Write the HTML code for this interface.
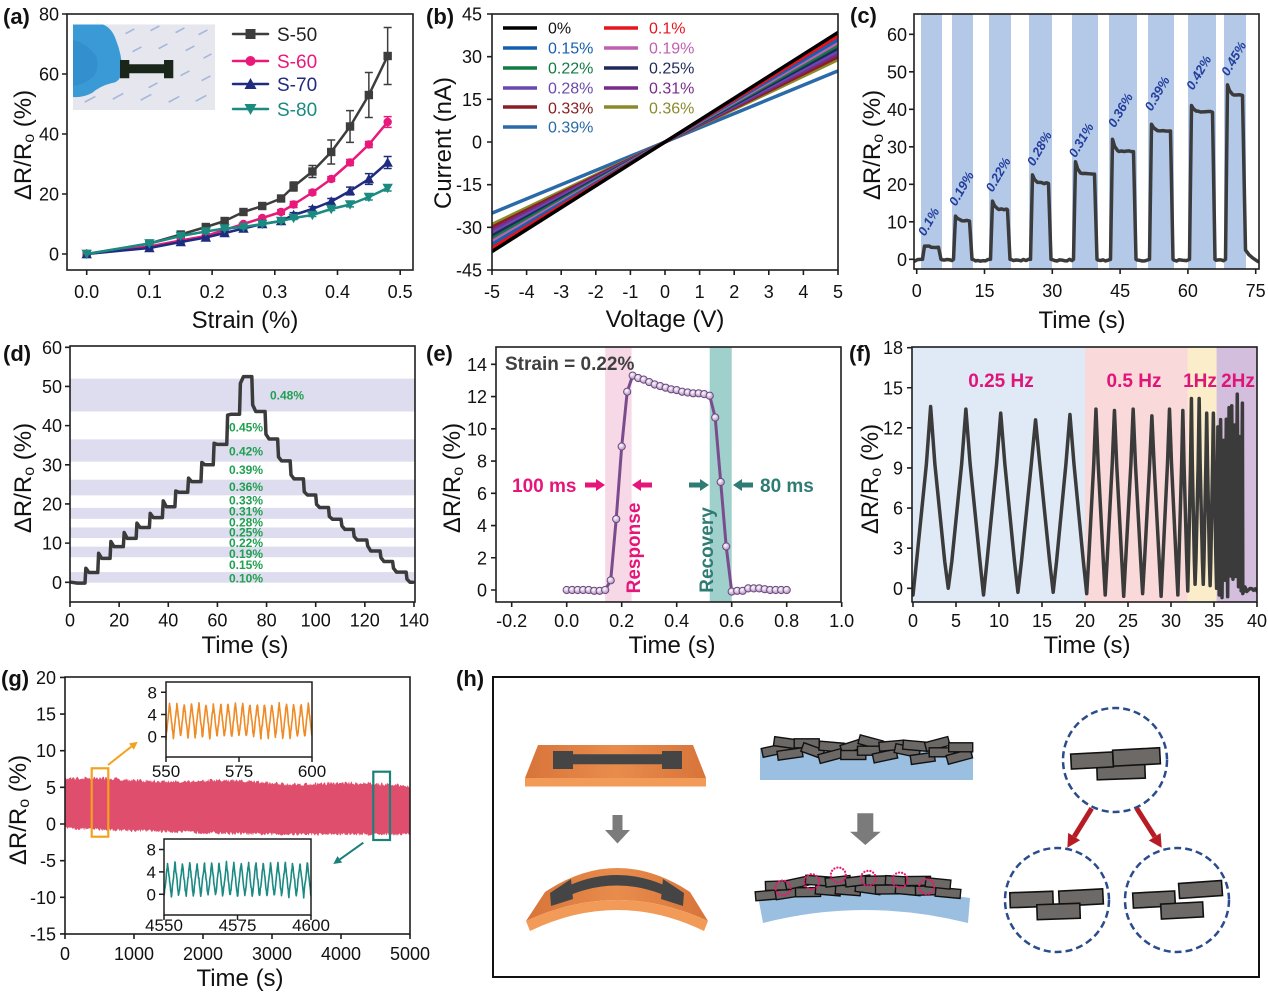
<!DOCTYPE html>
<html><head><meta charset="utf-8">
<style>
html,body{margin:0;padding:0;background:#fff;}
svg{display:block;font-family:"Liberation Sans",Arial,sans-serif;}
.t{font-size:18px;fill:#111;}
.te{font-size:18px;fill:#111;text-anchor:end;}
.tm{font-size:18px;fill:#111;text-anchor:middle;}
.ti{font-size:24px;fill:#111;text-anchor:middle;}
.pl{font-size:22px;font-weight:bold;fill:#111;}
.cl{font-size:13px;font-weight:bold;font-style:italic;fill:#223e9c;}
.dl{font-size:12px;font-weight:bold;fill:#20a050;text-anchor:middle;}
.ins{font-size:17px;fill:#111;}
</style></head><body>
<svg id="s" width="1268" height="996" viewBox="0 0 1268 996" xmlns="http://www.w3.org/2000/svg">
<defs>
<clipPath id="kb"><rect x="492" y="14" width="346" height="256"/></clipPath>
<clipPath id="kc"><rect x="914" y="14" width="345" height="255"/></clipPath>
<clipPath id="kf"><rect x="912" y="347" width="345" height="255"/></clipPath>
<linearGradient id="og" x1="0" x2="1" y1="0" y2="0"><stop offset="0" stop-color="#d8743a"/><stop offset="0.5" stop-color="#e88c4c"/><stop offset="1" stop-color="#d8743a"/></linearGradient>
<radialGradient id="sph" cx="0.4" cy="0.35" r="0.7"><stop offset="0" stop-color="#ffffff"/><stop offset="1" stop-color="#a888b8"/></radialGradient>
</defs>
<rect x="0" y="0" width="1268" height="996" fill="#fff"/>
<g id="bg"></g>
<g id="dt"></g>
<g id="ax"></g>

<!-- (a) inset photo -->
<rect x="73" y="24.5" width="142" height="85.5" fill="#e6e6ee"/>
<g fill="#5a80c6" opacity="0.45">
<rect x="125" y="30" width="10" height="1.6" transform="rotate(-28 131 31)"/>
<rect x="150" y="27" width="10" height="1.6" transform="rotate(-28 156 28)"/>
<rect x="175" y="29" width="10" height="1.6" transform="rotate(-28 181 30)"/>
<rect x="198" y="31" width="10" height="1.6" transform="rotate(-28 204 32)"/>
<rect x="132" y="48" width="10" height="1.6" transform="rotate(-28 138 49)"/>
<rect x="158" y="45" width="10" height="1.6" transform="rotate(-28 164 46)"/>
<rect x="185" y="47" width="10" height="1.6" transform="rotate(-28 191 48)"/>
<rect x="203" y="55" width="9" height="1.6" transform="rotate(-28 208 56)"/>
<rect x="180" y="72" width="10" height="1.6" transform="rotate(-28 186 73)"/>
<rect x="201" y="77" width="10" height="1.6" transform="rotate(-28 207 78)"/>
<rect x="84" y="98" width="12" height="1.6" transform="rotate(-28 91 99)"/>
<rect x="112" y="95" width="12" height="1.6" transform="rotate(-28 119 96)"/>
<rect x="140" y="96" width="12" height="1.6" transform="rotate(-28 147 97)"/>
<rect x="168" y="98" width="12" height="1.6" transform="rotate(-28 175 99)"/>
<rect x="195" y="97" width="12" height="1.6" transform="rotate(-28 202 98)"/>
<rect x="148" y="84" width="10" height="1.6" transform="rotate(-28 154 85)"/>
</g>
<path d="M73,24.5 H103 Q112,28 116,40 Q122,55 122,70 Q121,82 112,83 Q100,86 92,93 Q82,98 73,97 Z" fill="#3a9ad6"/>
<path d="M73,40 Q88,44 96,56 Q100,66 94,76 Q86,84 73,86 Z" fill="#2f88c6" opacity="0.6"/>
<path d="M120,60 H129.3 V64.3 H164 V60 H173.3 V78.3 H164 V73.3 H129.3 V78.3 H120 Z" fill="#1b261b"/>

<!-- (a) texts -->
<text class="pl" x="3" y="24">(a)</text>
<text class="te" x="59" y="20.5">80</text>
<text class="te" x="59" y="80.5">60</text>
<text class="te" x="59" y="140.5">40</text>
<text class="te" x="59" y="200.5">20</text>
<text class="te" x="59" y="260.5">0</text>
<text class="tm" x="86.7" y="298">0.0</text>
<text class="tm" x="149.4" y="298">0.1</text>
<text class="tm" x="212.1" y="298">0.2</text>
<text class="tm" x="274.8" y="298">0.3</text>
<text class="tm" x="337.5" y="298">0.4</text>
<text class="tm" x="400.2" y="298">0.5</text>
<text class="ti" x="245" y="328">Strain (%)</text>
<text class="ti" transform="translate(31,145) rotate(-90)">ΔR/R<tspan font-size="16" dy="3">o</tspan><tspan dy="-3"> (%)</tspan></text>
<g font-size="19">
<text x="277" y="41" fill="#222">S-50</text>
<text x="277" y="68" fill="#e8197a">S-60</text>
<text x="277" y="91" fill="#1f2b7e">S-70</text>
<text x="277" y="116" fill="#1b8a80">S-80</text>
</g>

<!-- (b) texts -->
<text class="pl" x="426" y="24">(b)</text>
<text class="te" x="482" y="20.5">45</text>
<text class="te" x="482" y="63.2">30</text>
<text class="te" x="482" y="105.8">15</text>
<text class="te" x="482" y="148.5">0</text>
<text class="te" x="482" y="191.2">-15</text>
<text class="te" x="482" y="233.8">-30</text>
<text class="te" x="482" y="276.5">-45</text>
<text class="tm" x="492" y="298">-5</text>
<text class="tm" x="526.6" y="298">-4</text>
<text class="tm" x="561.2" y="298">-3</text>
<text class="tm" x="595.8" y="298">-2</text>
<text class="tm" x="630.4" y="298">-1</text>
<text class="tm" x="665" y="298">0</text>
<text class="tm" x="699.6" y="298">1</text>
<text class="tm" x="734.2" y="298">2</text>
<text class="tm" x="768.8" y="298">3</text>
<text class="tm" x="803.4" y="298">4</text>
<text class="tm" x="838" y="298">5</text>
<text class="ti" x="665" y="327">Voltage (V)</text>
<text class="ti" transform="translate(451,143) rotate(-90)">Current (nA)</text>
<g font-size="16">
<text x="548" y="33.7" fill="#111">0%</text>
<text x="548" y="53.7" fill="#1560b0">0.15%</text>
<text x="548" y="73.7" fill="#127a42">0.22%</text>
<text x="548" y="93.7" fill="#6a4ab0">0.28%</text>
<text x="548" y="113.3" fill="#8a1e22">0.33%</text>
<text x="548" y="132.7" fill="#2a6aa8">0.39%</text>
<text x="649" y="33.7" fill="#e8141c">0.1%</text>
<text x="649" y="53.7" fill="#c060b0">0.19%</text>
<text x="649" y="73.7" fill="#1e2a5a">0.25%</text>
<text x="649" y="93.7" fill="#7a2a8a">0.31%</text>
<text x="649" y="113.3" fill="#8a8a2a">0.36%</text>
</g>

<!-- (c) texts -->
<text class="pl" x="850" y="23">(c)</text>
<text class="te" x="907" y="265.8">0</text>
<text class="te" x="907" y="228.3">10</text>
<text class="te" x="907" y="190.8">20</text>
<text class="te" x="907" y="153.3">30</text>
<text class="te" x="907" y="115.8">40</text>
<text class="te" x="907" y="78.3">50</text>
<text class="te" x="907" y="40.8">60</text>
<text class="tm" x="916.7" y="297">0</text>
<text class="tm" x="984.5" y="297">15</text>
<text class="tm" x="1052.3" y="297">30</text>
<text class="tm" x="1120.1" y="297">45</text>
<text class="tm" x="1187.9" y="297">60</text>
<text class="tm" x="1255.7" y="297">75</text>
<text class="ti" x="1082" y="328">Time (s)</text>
<text class="ti" transform="translate(880,145) rotate(-90)">ΔR/R<tspan font-size="16" dy="3">o</tspan><tspan dy="-3"> (%)</tspan></text>
<text class="cl" transform="translate(925,236.7) rotate(-60)">0.1%</text>
<text class="cl" transform="translate(956,206.7) rotate(-60)">0.19%</text>
<text class="cl" transform="translate(992.7,192.7) rotate(-60)">0.22%</text>
<text class="cl" transform="translate(1034,166.7) rotate(-60)">0.28%</text>
<text class="cl" transform="translate(1075.7,158.3) rotate(-60)">0.31%</text>
<text class="cl" transform="translate(1115,128.3) rotate(-60)">0.36%</text>
<text class="cl" transform="translate(1151.7,111.7) rotate(-60)">0.39%</text>
<text class="cl" transform="translate(1193.3,90.7) rotate(-60)">0.42%</text>
<text class="cl" transform="translate(1228.3,76.7) rotate(-60)">0.45%</text>

<!-- (d) texts -->
<text class="pl" x="3" y="361">(d)</text>
<text class="te" x="62" y="588.8">0</text>
<text class="te" x="62" y="549.6">10</text>
<text class="te" x="62" y="510.5">20</text>
<text class="te" x="62" y="471.3">30</text>
<text class="te" x="62" y="432.1">40</text>
<text class="te" x="62" y="393">50</text>
<text class="te" x="62" y="353.8">60</text>
<text class="tm" x="70" y="626.5">0</text>
<text class="tm" x="119.1" y="626.5">20</text>
<text class="tm" x="168.3" y="626.5">40</text>
<text class="tm" x="217.4" y="626.5">60</text>
<text class="tm" x="266.6" y="626.5">80</text>
<text class="tm" x="315.7" y="626.5">100</text>
<text class="tm" x="364.8" y="626.5">120</text>
<text class="tm" x="414" y="626.5">140</text>
<text class="ti" x="245" y="653">Time (s)</text>
<text class="ti" transform="translate(31,478) rotate(-90)">ΔR/R<tspan font-size="16" dy="3">o</tspan><tspan dy="-3"> (%)</tspan></text>
<text class="dl" x="287" y="399.7">0.48%</text>
<text class="dl" x="246" y="431.7">0.45%</text>
<text class="dl" x="246" y="455.7">0.42%</text>
<text class="dl" x="246" y="474">0.39%</text>
<text class="dl" x="246" y="491">0.36%</text>
<text class="dl" x="246" y="504.7">0.33%</text>
<text class="dl" x="246" y="515.7">0.31%</text>
<text class="dl" x="246" y="526.3">0.28%</text>
<text class="dl" x="246" y="536.3">0.25%</text>
<text class="dl" x="246" y="547">0.22%</text>
<text class="dl" x="246" y="558">0.19%</text>
<text class="dl" x="246" y="569">0.15%</text>
<text class="dl" x="246" y="582.3">0.10%</text>

<!-- (e) texts -->
<text class="pl" x="426" y="361">(e)</text>
<text class="te" x="487" y="596.5">0</text>
<text class="te" x="487" y="564.3">2</text>
<text class="te" x="487" y="532">4</text>
<text class="te" x="487" y="499.8">6</text>
<text class="te" x="487" y="467.5">8</text>
<text class="te" x="487" y="435.3">10</text>
<text class="te" x="487" y="403.1">12</text>
<text class="te" x="487" y="370.8">14</text>
<text class="tm" x="511.7" y="627">-0.2</text>
<text class="tm" x="566.7" y="627">0.0</text>
<text class="tm" x="621.7" y="627">0.2</text>
<text class="tm" x="676.7" y="627">0.4</text>
<text class="tm" x="731.7" y="627">0.6</text>
<text class="tm" x="786.7" y="627">0.8</text>
<text class="tm" x="841.7" y="627">1.0</text>
<text class="ti" x="672" y="653">Time (s)</text>
<text class="ti" transform="translate(460,478) rotate(-90)">ΔR/R<tspan font-size="16" dy="3">o</tspan><tspan dy="-3"> (%)</tspan></text>
<text x="505" y="370" font-size="19" font-weight="bold" fill="#404040">Strain = 0.22%</text>
<text x="512" y="492" font-size="19" font-weight="bold" fill="#e6157a">100 ms</text>
<text x="760" y="492" font-size="19" font-weight="bold" fill="#2e7c74">80 ms</text>
<text transform="translate(640,548) rotate(-90)" text-anchor="middle" font-size="19" font-weight="bold" fill="#e6157a">Response</text>
<text transform="translate(713,550) rotate(-90)" text-anchor="middle" font-size="19" font-weight="bold" fill="#2e7c74">Recovery</text>
<path d="M585,482.5 H596 V479 L605,485 L596,491 V487.5 H585 Z" fill="#e6157a"/>
<path d="M652,482.5 H641 V479 L632,485 L641,491 V487.5 H652 Z" fill="#e6157a"/>
<path d="M689,482.5 H700 V479 L709,485 L700,491 V487.5 H689 Z" fill="#2e7c74"/>
<path d="M753,482.5 H742 V479 L733,485 L742,491 V487.5 H753 Z" fill="#2e7c74"/>

<!-- (f) texts -->
<text class="pl" x="849" y="361">(f)</text>
<text class="te" x="903" y="594.8">0</text>
<text class="te" x="903" y="554.7">3</text>
<text class="te" x="903" y="514.7">6</text>
<text class="te" x="903" y="474.5">9</text>
<text class="te" x="903" y="434.4">12</text>
<text class="te" x="903" y="394.3">15</text>
<text class="te" x="903" y="354.1">18</text>
<text class="tm" x="913" y="627">0</text>
<text class="tm" x="956" y="627">5</text>
<text class="tm" x="999" y="627">10</text>
<text class="tm" x="1042" y="627">15</text>
<text class="tm" x="1085" y="627">20</text>
<text class="tm" x="1128" y="627">25</text>
<text class="tm" x="1171" y="627">30</text>
<text class="tm" x="1214" y="627">35</text>
<text class="tm" x="1257" y="627">40</text>
<text class="ti" x="1087" y="653">Time (s)</text>
<text class="ti" transform="translate(878,479) rotate(-90)">ΔR/R<tspan font-size="16" dy="3">o</tspan><tspan dy="-3"> (%)</tspan></text>
<g font-size="19" font-weight="bold" fill="#e0157a" text-anchor="middle">
<text x="1001" y="387">0.25 Hz</text>
<text x="1134" y="387">0.5 Hz</text>
<text x="1200" y="387">1Hz</text>
<text x="1238" y="387">2Hz</text>
</g>

<!-- (g) texts -->
<text class="pl" x="1" y="686">(g)</text>
<text class="te" x="56" y="683.9">20</text>
<text class="te" x="56" y="720.5">15</text>
<text class="te" x="56" y="757.2">10</text>
<text class="te" x="56" y="793.9">5</text>
<text class="te" x="56" y="830.5">0</text>
<text class="te" x="56" y="867.2">-5</text>
<text class="te" x="56" y="903.8">-10</text>
<text class="te" x="56" y="940.5">-15</text>
<text class="tm" x="65" y="960">0</text>
<text class="tm" x="134" y="960">1000</text>
<text class="tm" x="203" y="960">2000</text>
<text class="tm" x="272" y="960">3000</text>
<text class="tm" x="341" y="960">4000</text>
<text class="tm" x="410" y="960">5000</text>
<text class="ti" x="240" y="986">Time (s)</text>
<text class="ti" transform="translate(26,810) rotate(-90)">ΔR/R<tspan font-size="16" dy="3">o</tspan><tspan dy="-3"> (%)</tspan></text>
<rect x="91.7" y="768.3" width="16.6" height="68.4" fill="none" stroke="#f2a21e" stroke-width="2.2"/>
<path d="M108,765 L131.4,746.6" stroke="#f2a21e" stroke-width="2"/>
<path d="M137.7,741.7 L133.9,749.8 L128.9,743.5 Z" fill="#f2a21e"/>
<rect x="373.3" y="771.7" width="16.7" height="68.3" fill="none" stroke="#1a8078" stroke-width="2.2"/>
<path d="M363.3,842.7 L339.8,859.4" stroke="#1a8078" stroke-width="2"/>
<path d="M333.3,864 L342.1,862.6 L337.5,856.1 Z" fill="#1a8078"/>
<g id="ins"></g>
<g class="ins">
<text x="157" y="698.3" text-anchor="end" font-size="17">8</text>
<text x="157" y="720.5" text-anchor="end" font-size="17">4</text>
<text x="157" y="742.7" text-anchor="end" font-size="17">0</text>
<text x="166" y="777" text-anchor="middle" font-size="17">550</text>
<text x="239" y="777" text-anchor="middle" font-size="17">575</text>
<text x="312" y="777" text-anchor="middle" font-size="17">600</text>
<text x="156" y="855.5" text-anchor="end" font-size="17">8</text>
<text x="156" y="878" text-anchor="end" font-size="17">4</text>
<text x="156" y="900.3" text-anchor="end" font-size="17">0</text>
<text x="164" y="931" text-anchor="middle" font-size="17">4550</text>
<text x="237.5" y="931" text-anchor="middle" font-size="17">4575</text>
<text x="311" y="931" text-anchor="middle" font-size="17">4600</text>
</g>

<!-- (h) -->
<text class="pl" x="456" y="686">(h)</text>
<rect x="493" y="677" width="766" height="300" fill="none" stroke="#111" stroke-width="2"/>
<!-- flat device -->
<polygon points="538,745 693,745 706,778 525,778" fill="url(#og)"/>
<rect x="525" y="778" width="181" height="8.5" fill="#f29a58"/>
<path d="M553,751 H573 V754.3 H662 V751 H682 V769 H662 V764.3 H573 V769 H553 Z" fill="#454545"/>
<!-- arrow -->
<polygon points="612.5,815 622.5,815 622.5,830 630,830 617.5,843.5 605,830 612.5,830" fill="#7b7b7b"/>
<!-- curved device -->
<path d="M545,892 Q617,844 690,892 L708,921 Q617,879 526,921 Z" fill="url(#og)"/>
<path d="M526,921 Q617,879 708,921 L704,931 Q617,889 530,931 Z" fill="#f29a58"/>
<path d="M550,893 L571,879 L573,899 L551,906 Z" fill="#454545"/>
<path d="M663,879 L684,893 L683,906 L661,899 Z" fill="#454545"/>
<path d="M570,885 Q617,865 664,885 L664,895 Q617,876 570,895 Z" fill="#454545"/>
<!-- middle -->
<rect x="760" y="748" width="213" height="32" fill="#9bbfe1"/>
<polygon points="857.3,813.3 873.3,813.3 873.3,831.7 880.7,831.7 865.3,845 850,831.7 857.3,831.7" fill="#7b7b7b"/>
<path d="M758,896 Q865,882 970,898 L968,923 Q865,897 763,923 Z" fill="#9bbfe1"/>
<g id="hf"></g>
<g fill="none" stroke="#e8196e" stroke-width="2.2" stroke-dasharray="0.1 3" stroke-linecap="round">
<circle cx="783" cy="888" r="7.5"/>
<circle cx="811.7" cy="881.7" r="7.5"/>
<circle cx="838.3" cy="875" r="7.5"/>
<circle cx="868.3" cy="878.3" r="7.5"/>
<circle cx="900" cy="880" r="7.5"/>
<circle cx="926.7" cy="886.7" r="7.5"/>
</g>
<!-- right -->
<g fill="none" stroke="#2a4b8d" stroke-width="2.5" stroke-dasharray="7 4">
<circle cx="1115" cy="760" r="52"/>
<circle cx="1057" cy="900" r="52"/>
<circle cx="1177" cy="900" r="52"/>
</g>
<g fill="#6d6967" stroke="#111" stroke-width="1.6">
<rect x="1097" y="764" width="48" height="15" transform="rotate(-2 1121 771)"/>
<rect x="1071" y="753" width="42" height="15" transform="rotate(-3 1092 760)"/>
<rect x="1113" y="749" width="47" height="16" transform="rotate(-3 1136 757)"/>
<rect x="1010" y="892" width="43" height="15" transform="rotate(-2 1031 899)"/>
<rect x="1059" y="890" width="44" height="15" transform="rotate(-3 1081 897)"/>
<rect x="1037" y="904" width="43" height="15" transform="rotate(-2 1058 911)"/>
<rect x="1133" y="892" width="42" height="15" transform="rotate(-3 1154 899)"/>
<rect x="1179" y="882" width="43" height="15" transform="rotate(-4 1200 889)"/>
<rect x="1161" y="903" width="42" height="15" transform="rotate(-3 1182 910)"/>
</g>
<path d="M1091.7,808.3 L1074.2,836.6" stroke="#b71c24" stroke-width="5"/>
<path d="M1067.3,847.7 L1080.1,840.3 L1068.2,832.9 Z" fill="#b71c24"/>
<path d="M1136.7,808.3 L1154.7,836.7" stroke="#b71c24" stroke-width="5"/>
<path d="M1161.7,847.7 L1160.6,833 L1148.8,840.5 Z" fill="#b71c24"/>
</svg>
<script>
(function(){
var NS="http://www.w3.org/2000/svg";
var BG=document.getElementById('bg'),DT=document.getElementById('dt'),AX=document.getElementById('ax'),INS=document.getElementById('ins'),HF=document.getElementById('hf');
function el(t,a,p){var e=document.createElementNS(NS,t);for(var k in a)e.setAttribute(k,a[k]);p.appendChild(e);return e;}
function P(p){var s='';for(var i=0;i<p.length;i++)s+=(i?'L':'M')+p[i][0].toFixed(2)+' '+p[i][1].toFixed(2);return s;}
var sd=12345;function R(){sd=(sd*16807)%2147483647;return sd/2147483647;}
function ln(p,c,w,g){return el('path',{d:P(p),fill:'none',stroke:c,'stroke-width':w,'stroke-linejoin':'round','stroke-linecap':'round'},g||DT);}
function rc(x,y,w,h,f,g){return el('rect',{x:x,y:y,width:w,height:h,fill:f},g||BG);}
function rng(a,b,s){var r=[];for(var v=a;v<=b+1e-9;v+=s)r.push(v);return r;}
function axes(x0,y0,x1,y1,xt,yt){
 el('rect',{x:x0,y:y0,width:x1-x0,height:y1-y0,fill:'none',stroke:'#1e1e1e','stroke-width':1.6},AX);
 var d='';xt.forEach(function(x){d+='M'+x+' '+y1+'V'+(y1+5);});yt.forEach(function(y){d+='M'+x0+' '+y+'H'+(x0-5);});
 el('path',{d:d,fill:'none',stroke:'#1e1e1e','stroke-width':1.6},AX);
}
function mk(t,x,y,c,g,s){
 if(t=='s')el('rect',{x:x-s,y:y-s,width:2*s,height:2*s,fill:c},g);
 else if(t=='c')el('circle',{cx:x,cy:y,r:s,fill:c},g);
 else if(t=='u')el('path',{d:'M'+x+' '+(y-s-1)+'L'+(x+s+1)+' '+(y+s)+'L'+(x-s-1)+' '+(y+s)+'Z',fill:c},g);
 else el('path',{d:'M'+x+' '+(y+s+1)+'L'+(x+s+1)+' '+(y-s)+'L'+(x-s-1)+' '+(y-s)+'Z',fill:c},g);
}
/* (a) */
(function(){
 var X=function(v){return 86.7+v*627;},Y=function(v){return 254-v*3;};
 axes(67,14,413,270,rng(0,0.5,0.1).map(X),rng(0,80,20).map(Y));
 var xs=[0,.1,.15,.19,.22,.25,.28,.31,.33,.36,.39,.42,.45,.48];
 var S=[
  {c:'#3d3d3d',m:'s',y:[0,3.5,6.5,9,11,14,16,18.5,22.5,27.5,34,42.5,53,66],e:[0,.6,.8,.8,.8,.8,1,1,1.5,2,4,5.3,7.5,9.5]},
  {c:'#e8197a',m:'c',y:[0,2.5,4.5,6,8,10,12,14,16.5,20.5,25,30.5,36.5,44],e:[0,.5,.5,.5,.5,.5,.6,.8,1,.8,.8,1,1,1.8]},
  {c:'#1f2b7e',m:'u',y:[0,2,4,5.5,7,8.5,10,11,13,15,17.5,21,25,30.5],e:[0,.5,.5,.5,.5,.5,.5,.5,.8,.8,1,1.3,1.8,2]},
  {c:'#1b8a80',m:'d',y:[0,3.5,6,7.5,8.5,9,10,11,12,13,15,16.5,19,22],e:[0,.5,.5,.5,.5,.5,.5,.5,.5,.5,.5,.8,1,1]}];
 S.forEach(function(s){
  ln(xs.map(function(x,i){return [X(x),Y(s.y[i])];}),s.c,2.5);
  xs.forEach(function(x,i){var e=s.e[i],px=X(x),v=s.y[i];
   if(e>0.3){el('path',{d:'M'+px+' '+Y(v+e)+'V'+Y(v-e)+'M'+(px-4)+' '+Y(v+e)+'h8M'+(px-4)+' '+Y(v-e)+'h8',stroke:s.c,'stroke-width':1.5,fill:'none'},DT);}
   mk(s.m,px,Y(v),s.c,DT,4.2);});
 });
 [34,61,84,109].forEach(function(y,i){ln([[233,y],[268,y]],S[i].c,2.5);mk(S[i].m,250.5,y,S[i].c,DT,5);});
})();
/* (b) */
(function(){
 var X=function(v){return 665+v*34.6;},Y=function(v){return 142-v*2.8444;};
 axes(492,14,838,270,rng(-5,5,1).map(X),rng(-45,45,15).map(Y));
 var g=el('g',{'clip-path':'url(#kb)'},DT);
 [['#2a6aa8',25],['#8a8a2a',29],['#8a1e22',30],['#7a2a8a',31],['#6a4ab0',32],['#1e2a5a',33],['#127a42',34],['#c060b0',35],['#1560b0',36],['#e8141c',37.3],['#000000',38.5]].forEach(function(q){
  el('path',{d:'M'+X(-5.1)+' '+Y(-q[1]*1.02)+'L'+X(5.1)+' '+Y(q[1]*1.02),stroke:q[0],'stroke-width':3.5,fill:'none'},g);});
 [[28,'#000',503],[48,'#1560b0',503],[68,'#127a42',503],[88,'#6a4ab0',503],[107,'#8a1e22',503],[127,'#2a6aa8',503],[28,'#e8141c',604],[48,'#c060b0',604],[68,'#1e2a5a',604],[88,'#7a2a8a',604],[107,'#8a8a2a',604]].forEach(function(q){
  el('path',{d:'M'+q[2]+' '+q[0]+'h34',stroke:q[1],'stroke-width':3.5,fill:'none'},DT);});
})();
/* (c) */
(function(){
 var X=function(v){return 916.7+v*4.52;},Y=function(v){return 259.3-v*3.75;};
 axes(914,14,1259,269,rng(0,75,15).map(X),rng(0,60,10).map(Y));
 var bands=[[921,942],[952,973],[989,1011],[1029,1052],[1072,1098],[1109,1137],[1148,1174],[1188,1216],[1224,1246]];
 var pk=[[3.5,3.5],[11.5,10.5],[15.5,13.5],[22.5,20.5],[26,23],[32,29],[36,34.5],[41,39.5],[46.5,44]];
 bands.forEach(function(b){rc(b[0],14,b[1]-b[0],255,'#b4c8e8');});
 var p=[],x=915;
 bands.forEach(function(b,i){
  while(x<b[0]+1){p.push([x,Y(-0.25+(R()-0.5)*0.5)]);x+=2.5;}
  var h=pk[i][0],l=pk[i][1];
  p.push([b[0]+1.5,Y(0)],[b[0]+3.5,Y(h)],[b[0]+5.5,Y(h-(h-l)*0.6)],[b[0]+8.5,Y(l)]);
  var xx=b[0]+10;while(xx<b[1]-4){p.push([xx,Y(l-0.3*(xx-b[0])/(b[1]-b[0])+(R()-0.5)*0.3)]);xx+=2.5;}
  p.push([b[1]-3.5,Y(l-0.3)]);
  if(i<8){p.push([b[1]-1,Y(0)]);x=b[1];}
  else{p.push([b[1]-0.5,Y(2.5)],[b[1]+3,Y(1.2)],[b[1]+7,Y(0.3)],[1258,Y(-0.6)]);}
 });
 var g=el('g',{'clip-path':'url(#kc)'},DT);ln(p,'#3b3b3b',3.5,g);
})();
/* (d) */
(function(){
 var X=function(v){return 70+v*2.457;},Y=function(v){return 582.3-v*3.917;};
 axes(70,346,415,602,rng(0,140,20).map(X),rng(0,60,10).map(Y));
 [[52,43.6],[36.5,30.8],[26.2,22.2],[19,16.2],[14,11.3],[9.1,6.4],[2.6,-0.1]].forEach(function(q){rc(70,Y(q[0]),345,Y(q[1])-Y(q[0]),'#dedcef');});
 var st=[[6.1,3.6,2.5],[11.3,7.4,6.1],[16.3,10.4,9.1],[21.7,12.7,11.2],[26.9,15.1,14],[32.3,17.6,16.5],[37.6,20.8,19.3],[42.7,23.3,23],[47.9,26.6,25.7],[53.3,30.6,30],[58.3,35.5,35.2],[63.8,42.7,42.9],[69,50.8,52.5],
  [74,45.3,43.6],[79.4,37.8,36.6],[84.5,32,31],[89.6,27.4,26.4],[95,23.1,22.3],[100,19.9,19.1],[105.2,16.8,16.1],[110.3,14.4,13.5],[115.3,11.7,10.8],[120.8,9.3,8],[126.2,6.3,5.3],[131.3,3.6,2.6],[136.8,0.8,0]];
 var p=[[X(0.7),Y(0)],[X(3),Y(-0.2)]],cur=-0.2;
 st.forEach(function(q){p.push([X(q[0]),Y(cur)],[X(q[0]+0.35),Y(q[1])],[X(q[0]+1.6),Y(q[2])]);cur=q[2];});
 p.push([X(139.5),Y(0)]);
 ln(p,'#3b3b3b',3.5);
})();
/* (e) */
(function(){
 var X=function(v){return 566.7+v*275;},Y=function(v){return 590-v*16.12;};
 axes(496,347,841,602,rng(-0.2,1.0,0.2).map(X),rng(0,14,2).map(Y));
 rc(X(0.14),347,X(0.236)-X(0.14),255,'#f7d8e6');
 rc(X(0.52),347,X(0.6)-X(0.52),255,'#9fd0cb');
 var d=[[0,0],[.02,0],[.04,0],[.06,0],[.08,0],[.10,-0.05],[.12,-0.05],[.14,0],[.16,.6],[.18,4.4],[.2,8.9],[.22,12.3],[.24,13.3],[.26,13.15],[.28,13.05],[.3,12.9],[.32,12.75],[.34,12.65],[.36,12.55],[.38,12.45],[.4,12.4],[.42,12.3],[.44,12.25],[.46,12.2],[.48,12.2],[.5,12.15],[.52,12.05],[.54,10.7],[.56,6.7],[.58,2.7],[.6,-0.1],[.62,-0.05],[.64,-0.05],[.66,.1],[.68,.1],[.7,.1],[.72,.05],[.74,0],[.76,0],[.78,0],[.8,0]];
 ln(d.map(function(q){return [X(q[0]),Y(q[1])];}),'#7b4c8d',3);
 d.forEach(function(q){el('circle',{cx:X(q[0]),cy:Y(q[1]),r:3.6,fill:'url(#sph)',stroke:'#6d4680','stroke-width':1},DT);});
})();
/* (f) */
(function(){
 var X=function(v){return 913+v*8.6;},Y=function(v){return 588.3-v*13.37;};
 axes(912,347,1257,602,rng(0,40,5).map(X),rng(0,18,3).map(Y));
 rc(912,347,X(20)-912,255,'#dfeaf6');rc(X(20),347,X(31.95)-X(20),255,'#f9d9da');rc(X(31.95),347,X(35.3)-X(31.95),255,'#fbedca');rc(X(35.3),347,1257-X(35.3),255,'#d4bede');
 var F=[];
 function tri(t0,t1,pk,m0){var d=t1-t0;F.push([t0,m0],[t0+d*0.1,2],[t0+d*0.38,9.3],[t0+d*0.5,pk],[t0+d*0.62,9.3],[t0+d*0.9,2]);}
 var m1=[0,4.1,8.2,12.2,16.3,20.2],p1=[13.6,13.4,13.1,12.6,13.0],v1=[-0.5,0,-0.5,-0.3,-0.3];
 for(var i=0;i<5;i++)tri(m1[i],m1[i+1],p1[i],v1[i]);
 var m2=[20.2,22.35,24.5,26.7,28.85,30.8,31.95],p2=[13.4,13.3,13.4,12.9,13.4,13.3],v2=[-0.4,-0.5,-0.6,-0.4,-0.6,-0.5];
 for(i=0;i<6;i++)tri(m2[i],m2[i+1],p2[i],v2[i]);
 var m3=[31.95,32.8,33.75,34.55,35.3],p3=[14.2,14.2,13.1,13.1],v3=[-0.2,0.3,0.3,0.2];
 for(i=0;i<4;i++)tri(m3[i],m3[i+1],p3[i],v3[i]);
 var t=35.3;while(t<38.2){var pr=0.28+R()*0.08;F.push([t,-0.8+R()*2.2],[t+pr/2,11+R()*3.6]);t+=pr;}
 F.push([38.35,-0.4],[38.6,0.1]);for(t=38.8;t<=40.01;t+=0.2)F.push([t,-0.1+(R()-0.5)*0.3]);
 var g=el('g',{'clip-path':'url(#kf)'},DT);ln(F.map(function(q){return [X(q[0]),Y(q[1])];}),'#3b3b3b',3.5,g);
})();
/* (g) */
(function(){
 var X=function(v){return 65+v*0.069;},Y=function(v){return 824-v*7.33;};
 axes(65,677,410,934,rng(0,5000,1000).map(X),rng(-15,20,5).map(Y));
 var top=[],bot=[];
 for(var t=0;t<=5000;t+=12){var f=t/5000;
  top.push([X(t),Y(6.2-0.9*f+(R()-0.5)*0.5+0.15*Math.sin(t/300))]);
  bot.push([X(t),Y(-0.6-0.8*Math.min(1,f*1.8)+(R()-0.5)*0.45)]);}
 bot.reverse();
 el('path',{d:P(top.concat(bot))+'Z',fill:'#df4f6d'},DT);
 function wave(ta,tb,X2,Y2,cen,amp){var p=[];for(var t=ta;t<=tb+1e-9;t+=0.12){var ph=((t-ta)/2.5)%1;var v=ph<0.5?(-1+4*ph):(3-4*ph);v=cen+amp*v+(R()-0.5)*0.7;p.push([X2(t),Y2(v)]);}return p;}
 function inset(x0,y0,x1,y1,xt,yt,pts,c){
  el('rect',{x:x0,y:y0,width:x1-x0,height:y1-y0,fill:'#fff'},INS);
  ln(pts,c,1.6,INS);
  el('rect',{x:x0,y:y0,width:x1-x0,height:y1-y0,fill:'none',stroke:'#1e1e1e','stroke-width':1.5},INS);
  var d='';xt.forEach(function(x){d+='M'+x+' '+y1+'V'+(y1+5);});yt.forEach(function(y){d+='M'+x0+' '+y+'H'+(x0-5);});
  el('path',{d:d,stroke:'#1e1e1e','stroke-width':1.5,fill:'none'},INS);
 }
 var X1=function(v){return 166+(v-550)*2.92;},Y1=function(v){return 736.7-v*5.55;};
 inset(166,682,312,757,[166,239,312],[736.7,714.5,692.3],wave(550,600,X1,Y1,2.9,3.1),'#f08a24');
 var X2=function(v){return 164+(v-4550)*2.94;},Y2=function(v){return 894.3-v*5.6;};
 inset(164,839,311,915,[164,237.5,311],[894.3,871.9,849.5],wave(4550,4600,X2,Y2,2.6,3.0),'#1a8a82');
})();
/* (h) flakes */
(function(){
 function flake(cx,cy,w,h,a){el('rect',{x:cx-w/2,y:cy-h/2,width:w,height:h,transform:'rotate('+a.toFixed(1)+' '+cx.toFixed(1)+' '+cy.toFixed(1)+')',fill:'#6b6866',stroke:'#111','stroke-width':1.4},HF);}
 var fl=[[776,750,28,9,-12],[785,742.7,22,9,8],[790,754,25,9,-8],[806.7,743.3,25,9,0],[812.7,750.7,22,9,20],[831.7,746.7,25,9,5],[830.7,756,24,9,-15],[853.3,746,25,9,-18],[853.3,755,25,9,0],[870.7,742.3,24,9,15],[870,750.7,25,9,0],[885,756,24,9,-12],[891.7,745.7,25,9,-5],[907.3,750.7,25,9,12],[915,745.7,24,9,5],[922.7,758.3,24,9,-8],[937.3,744,24,9,-15],[941.7,752.3,25,9,0],[959.3,756.7,25,9,-15],[960.7,747.3,24,9,0]];
 fl.forEach(function(f){flake(f[0],f[1],f[2],f[3],f[4]);});
 var k=0.00065;function ay(x){return 886.7+k*(x-864)*(x-864);}function sl(x){return Math.atan(2*k*(x-864))*180/Math.PI;}
 for(var x=768;x<=962;x+=20){flake(x,ay(x)+2+(R()-0.5)*3,25,9,sl(x)+(R()-0.5)*16);}
 for(x=778;x<=955;x+=20){flake(x,ay(x)-7+(R()-0.5)*3,25,9,sl(x)+(R()-0.5)*16);}
})();
})();
</script>
</body></html>
